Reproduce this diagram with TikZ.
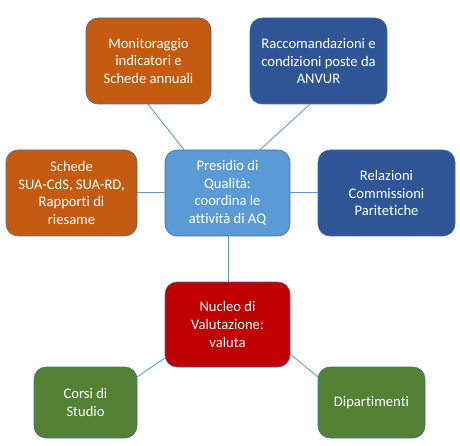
\documentclass[tikz,border=0pt]{standalone}
\usepackage{fontspec}
\setmainfont{Carlito}[Ligatures={NoCommon}]
\definecolor{corange}{HTML}{C55A11}
\definecolor{cdblue}{HTML}{2F5597}
\definecolor{clblue}{HTML}{5B9BD5}
\definecolor{cred}{HTML}{C00000}
\definecolor{cgreen}{HTML}{548235}
\definecolor{cline}{HTML}{5B9BD5}
\definecolor{cedge}{HTML}{41719C}
\tikzset{
  boxbase/.style={rounded corners=12pt, draw=cedge, line width=0.6pt, text=white,
    font=\fontsize{14.6}{17.7}\selectfont, align=center, inner sep=0pt},
  conn/.style={draw=cline, line width=0.9pt},
}
\begin{document}
\begin{tikzpicture}[x=1pt,y=-1pt]
\useasboundingbox (0,0) rectangle (460,446);
\node[boxbase, fill=corange, minimum width=125pt, minimum height=86pt] (mon) at (148.5,61) {Monitoraggio\\indicatori e\\Schede annuali};
\node[boxbase, fill=cdblue, minimum width=137pt, minimum height=86pt] (rac) at (318.5,61) {Raccomandazioni e\\condizioni poste da\\ANVUR};
\node[boxbase, fill=corange, minimum width=131pt, minimum height=86pt] (sch) at (71.5,193) {Schede\\SUA-CdS, SUA-RD,\\Rapporti di\\riesame};
\node[boxbase, fill=clblue, minimum width=125pt, minimum height=86pt] (pre) at (227.5,193) {Presidio di\\Qualità:\\coordina le\\attività di AQ};
\node[boxbase, fill=cdblue, minimum width=137pt, minimum height=86pt] (rel) at (386.5,193) {Relazioni\\Commissioni\\Paritetiche};
\node[boxbase, fill=cred, minimum width=125pt, minimum height=85pt] (nuc) at (227.5,324.5) {Nucleo di\\Valutazione:\\valuta};
\node[boxbase, fill=cgreen, minimum width=103pt, minimum height=71pt] (cor) at (85.5,402.5) {Corsi di\\Studio};
\node[boxbase, fill=cgreen, minimum width=107pt, minimum height=71pt] (dip) at (371.5,402.5) {Dipartimenti};
\draw[conn] (148,104.3) -- (184,149.7);
\draw[conn] (310,104.3) -- (260,149.7);
\draw[conn] (sch.east |- 0,192) -- (pre.west |- 0,192);
\draw[conn] (pre.east |- 0,192) -- (rel.west |- 0,192);
\draw[conn] (pre.south -| 228,0) -- (nuc.north -| 228,0);
\draw[conn] (165,358) -- (137,377);
\draw[conn] (290,354) -- (318,377);
\end{tikzpicture}
\end{document}
